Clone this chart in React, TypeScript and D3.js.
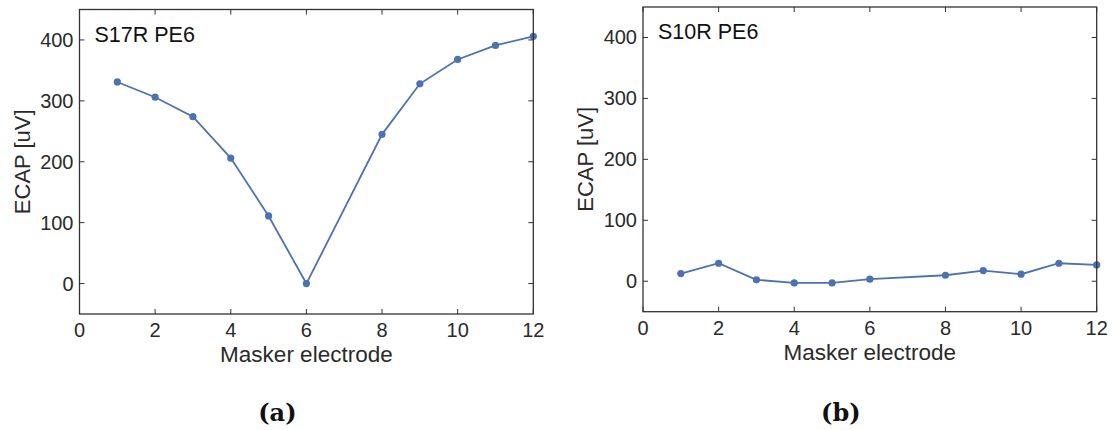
import React from "react";
import * as d3 from "d3";

const electrodes = [1, 2, 3, 4, 5, 6, 8, 9, 10, 11, 12];
const ecapS17R = [331, 306, 274, 206, 111, 0, 245, 328, 368, 391, 406];
const ecapS10R = [12.5, 29.5, 2.3, -2.7, -2.7, 3.3, 9.8, 17.5, 11.5, 29.5, 26.8];
const xTicks = [0, 2, 4, 6, 8, 10, 12];
const yTicks = [0, 100, 200, 300, 400];
const panelTitles = ["S17R PE6", "S10R PE6"];
const captions = ["(a)", "(b)"];

const FONT = "'Liberation Sans', Arial, sans-serif";
const BLUE = "#4c72b0";
const AXIS = "#333";
const TEXT = "#2a2a2a";

function Panel({ x0, x1, y0, y1, values, title, caption }: any) {
  const x = d3.scaleLinear().domain([0, 12]).range([x0, x1]);
  const y = d3.scaleLinear().domain([-50, 450]).range([y1, y0]);
  const line = d3
    .line<number>()
    .x((_, i) => x(electrodes[i]))
    .y((d) => y(d));
  const tl = 5;
  return (
    <g>
      <path d={line(values) || ""} fill="none" stroke={BLUE} strokeWidth={1.8} />
      {values.map((v: number, i: number) => (
        <circle key={i} cx={x(electrodes[i])} cy={y(v)} r={3.6} fill={BLUE} />
      ))}
      <rect x={x0} y={y0} width={x1 - x0} height={y1 - y0} fill="none" stroke={AXIS} strokeWidth={1.3} />
      {xTicks.map((t) => (
        <g key={"x" + t}>
          <line x1={x(t)} x2={x(t)} y1={y1} y2={y1 - tl} stroke={AXIS} strokeWidth={1} />
          <line x1={x(t)} x2={x(t)} y1={y0} y2={y0 + tl} stroke={AXIS} strokeWidth={1} />
          <text x={x(t)} y={y1 + 23} textAnchor="middle" fontSize={20} fontFamily={FONT} fill={TEXT}>
            {t}
          </text>
        </g>
      ))}
      {yTicks.map((t) => (
        <g key={"y" + t}>
          <line x1={x0} x2={x0 + tl} y1={y(t)} y2={y(t)} stroke={AXIS} strokeWidth={1} />
          <line x1={x1} x2={x1 - tl} y1={y(t)} y2={y(t)} stroke={AXIS} strokeWidth={1} />
          <text x={x0 - 6} y={y(t) + 7} textAnchor="end" fontSize={20} fontFamily={FONT} fill={TEXT}>
            {t}
          </text>
        </g>
      ))}
      <text x={x0 + 15} y={y0 + 32} fontSize={21.5} fontFamily={FONT} fill="#111">
        {title}
      </text>
      <text
        transform={`translate(${x0 - 50},${(y0 + y1) / 2}) rotate(-90)`}
        textAnchor="middle"
        fontSize={22}
        fontFamily={FONT}
        fill={TEXT}
      >
        ECAP [uV]
      </text>
      <text x={(x0 + x1) / 2} y={y1 + 48} textAnchor="middle" fontSize={22.5} fontFamily={FONT} fill={TEXT}>
        Masker electrode
      </text>
      <text
        x={(x0 + x1) / 2 - 29}
        y={421}
        textAnchor="middle"
        fontSize={24}
        fontWeight="bold"
        fontFamily="'DejaVu Serif', 'Liberation Serif', serif"
        fill="#111"
      >
        {caption}
      </text>
    </g>
  );
}

export default function App() {
  return (
    <svg
      width={1115}
      height={430}
      style={{ position: "absolute", left: 0, top: 0, background: "#fff" }}
    >
      <rect width={1115} height={430} fill="#fff" />
      <Panel x0={79.5} x1={533.3} y0={9.5} y1={314} values={ecapS17R} title={panelTitles[0]} caption={captions[0]} />
      <Panel x0={643} x1={1096.7} y0={7} y1={311.7} values={ecapS10R} title={panelTitles[1]} caption={captions[1]} />
    </svg>
  );
}
